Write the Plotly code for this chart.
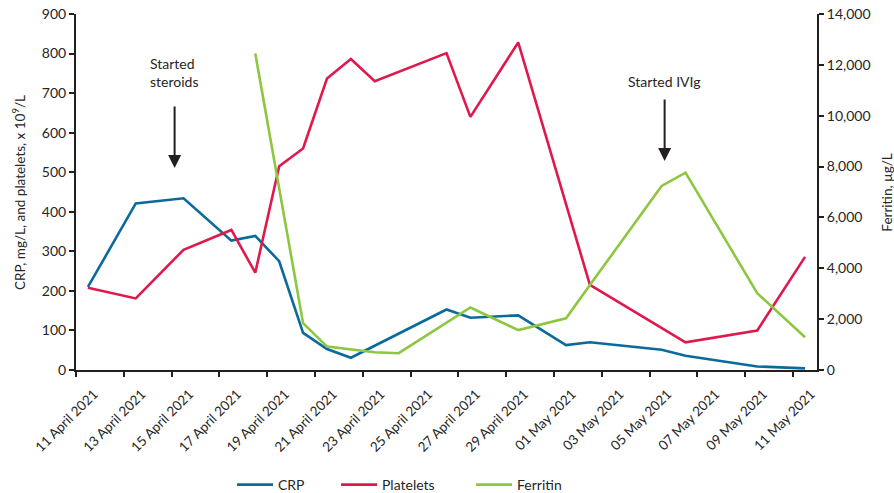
import plotly.graph_objects as go

# ---- data ----
crp_dates = ["2021-04-11", "2021-04-13", "2021-04-15", "2021-04-17", "2021-04-18",
             "2021-04-19", "2021-04-20", "2021-04-21", "2021-04-22", "2021-04-26",
             "2021-04-27", "2021-04-29", "2021-05-01", "2021-05-02", "2021-05-05",
             "2021-05-06", "2021-05-09", "2021-05-11"]
crp_values = [210, 421, 434, 327, 339, 275, 94, 53, 31, 153, 132, 138, 63, 70, 51, 36, 9, 4]

plt_dates = ["2021-04-11", "2021-04-13", "2021-04-15", "2021-04-17", "2021-04-18",
             "2021-04-19", "2021-04-20", "2021-04-21", "2021-04-22", "2021-04-23",
             "2021-04-26", "2021-04-27", "2021-04-29", "2021-05-02", "2021-05-06",
             "2021-05-09", "2021-05-11"]
plt_values = [208, 181, 304, 354, 246, 515, 560, 737, 786, 730, 801, 640, 828, 215, 70, 100, 286]

fer_dates = ["2021-04-18", "2021-04-20", "2021-04-21", "2021-04-23", "2021-04-24",
             "2021-04-27", "2021-04-29", "2021-05-01", "2021-05-02", "2021-05-05",
             "2021-05-06", "2021-05-09", "2021-05-11"]
fer_values = [12450, 1840, 920, 700, 660, 2460, 1570, 2030, 3340, 7240, 7760, 3020, 1290]

tick_dates = ["2021-04-11", "2021-04-13", "2021-04-15", "2021-04-17", "2021-04-19",
              "2021-04-21", "2021-04-23", "2021-04-25", "2021-04-27", "2021-04-29",
              "2021-05-01", "2021-05-03", "2021-05-05", "2021-05-07", "2021-05-09",
              "2021-05-11"]
tick_labels = ["11 April 2021", "13 April 2021", "15 April 2021", "17 April 2021",
               "19 April 2021", "21 April 2021", "23 April 2021", "25 April 2021",
               "27 April 2021", "29 April 2021", "01 May 2021", "03 May 2021",
               "05 May 2021", "07 May 2021", "09 May 2021", "11 May 2021"]

left_ticks = [0, 100, 200, 300, 400, 500, 600, 700, 800, 900]
right_ticks = [0, 2000, 4000, 6000, 8000, 10000, 12000, 14000]

BLUE = "#0B6A9C"
RED = "#E0194D"
GREEN = "#8DC63F"
TXT = "#262626"
AX = "#231F20"
FONT = "Lato"

fig = go.Figure()
fig.add_trace(go.Scatter(x=crp_dates, y=crp_values, name="CRP", mode="lines",
                         line=dict(color=BLUE, width=2.6), legend="legend",
                         showlegend=True))
fig.add_trace(go.Scatter(x=plt_dates, y=plt_values, name="Platelets", mode="lines",
                         line=dict(color=RED, width=2.6), legend="legend2",
                         showlegend=True))
fig.add_trace(go.Scatter(x=fer_dates, y=fer_values, name="Ferritin", mode="lines",
                         line=dict(color=GREEN, width=2.6), yaxis="y2", legend="legend3",
                         showlegend=True))

leg_common = dict(orientation="h", yref="container", y=1 - 485 / 493, yanchor="middle",
                  xref="container", xanchor="left",
                  font=dict(family=FONT, size=14, color=TXT),
                  bgcolor="rgba(0,0,0,0)", itemwidth=36)

fig.update_layout(
    width=894, height=493,
    margin=dict(l=76, r=77, t=14, b=123, autoexpand=False),
    paper_bgcolor="white", plot_bgcolor="white",
    showlegend=True,
    font=dict(family=FONT, size=14, color=TXT),
    legend=dict(x=232 / 894, **leg_common),
    legend2=dict(x=336 / 894, **leg_common),
    legend3=dict(x=471 / 894, **leg_common),
    xaxis=dict(
        type="date", automargin=False,
        range=["2021-04-10 12:00", "2021-05-11 12:00"],
        tickmode="array", tickvals=tick_dates, ticktext=tick_labels,
        tickangle=-45, ticks="", showgrid=False, zeroline=False,
        ticklabelstandoff=9, ticklabelshift=6,
        showline=True, linewidth=2, linecolor=AX,
        tickfont=dict(family=FONT, size=13.5, color=TXT),
        minor=dict(tick0="2021-04-10 12:00", dtick=2 * 86400000, ticks="outside",
                   ticklen=5, tickwidth=2, tickcolor=AX, showgrid=False),
    ),
    yaxis=dict(
        range=[0, 900], tickmode="array", tickvals=left_ticks, automargin=False,
        ticks="outside", ticklen=5, tickwidth=2, tickcolor=AX,
        showline=True, linewidth=2, linecolor=AX, showgrid=False, zeroline=False,
        tickfont=dict(family=FONT, size=14, color=TXT),
    ),
    yaxis2=dict(
        range=[0, 14000], tickmode="array", tickvals=right_ticks, tickformat=",",
        overlaying="y", side="right", anchor="x", automargin=False,
        ticks="outside", ticklen=5, tickwidth=2, tickcolor=AX,
        showline=True, linewidth=2, linecolor=AX, showgrid=False, zeroline=False,
        tickfont=dict(family=FONT, size=14, color=TXT),
    ),
)

# axis titles
fig.add_annotation(text="CRP, mg/L, and platelets, x 10<sup>9</sup>/L", textangle=-90,
                   xref="paper", yref="paper", x=-0.077, y=0.5, xanchor="center",
                   yanchor="middle", showarrow=False,
                   font=dict(family=FONT, size=13.5, color=TXT))
fig.add_annotation(text="Ferritin, µg/L", textangle=-90,
                   xref="paper", yref="paper", x=1.094, y=0.5, xanchor="center",
                   yanchor="middle", showarrow=False,
                   font=dict(family=FONT, size=13.5, color=TXT))

# event annotations
fig.add_annotation(text="Started<br>steroids", xref="paper", yref="paper",
                   x=0.1323, y=0.836, xanchor="center", yanchor="middle",
                   showarrow=False, align="left",
                   font=dict(family=FONT, size=14, color=TXT))
fig.add_annotation(text="", x="2021-04-14 15:00", xref="x", yref="paper",
                   y=(370 - 168) / 356, ax=0, ay=-63, showarrow=True,
                   arrowhead=2, arrowsize=1.3, arrowwidth=2, arrowcolor=AX, standoff=0)
fig.add_annotation(text="Started IVIg", xref="paper", yref="paper",
                   x=0.7939, y=0.809, xanchor="center", yanchor="middle",
                   showarrow=False, font=dict(family=FONT, size=14, color=TXT))
fig.add_annotation(text="", x="2021-05-05 03:00", xref="x", yref="paper",
                   y=(370 - 161) / 356, ax=0, ay=-63, showarrow=True,
                   arrowhead=2, arrowsize=1.3, arrowwidth=2, arrowcolor=AX, standoff=0)

fig.write_html("out.html",
               config={"displayModeBar": False},
               post_script="document.body.style.margin='0px';"
                           "document.body.style.overflow='hidden';")
